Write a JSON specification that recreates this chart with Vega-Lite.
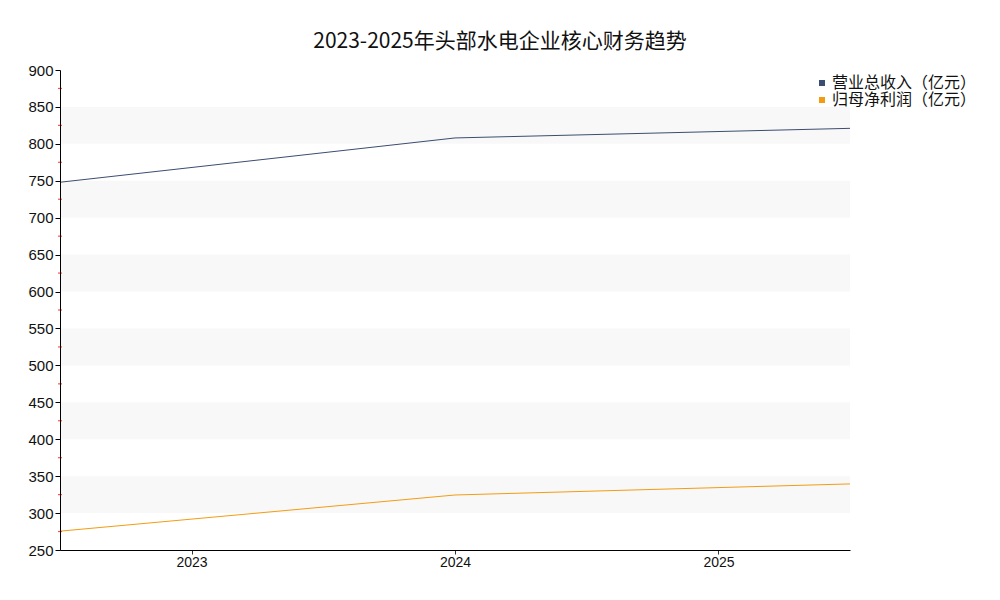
{
  "$schema": "https://vega.github.io/schema/vega-lite/v6.json",
  "autosize": "none",
  "width": 790,
  "height": 480,
  "padding": {"left": 60, "top": 70, "right": 150, "bottom": 50},
  "background": "white",
  "title": {
    "text": "2023-2025年头部水电企业核心财务趋势",
    "font": "Noto Sans CJK SC",
    "fontSize": 21,
    "fontWeight": "normal",
    "color": "#111111",
    "anchor": "middle",
    "dx": 45,
    "offset": 11
  },
  "layer": [
    {
      "data": {
        "values": [
          {"lo": 300, "hi": 350},
          {"lo": 400, "hi": 450},
          {"lo": 500, "hi": 550},
          {"lo": 600, "hi": 650},
          {"lo": 700, "hi": 750},
          {"lo": 800, "hi": 850}
        ]
      },
      "mark": {"type": "rect", "color": "#f8f8f8"},
      "encoding": {
        "y": {"field": "lo", "type": "quantitative", "title": null, "scale": {"domain": [250, 900], "nice": false, "zero": false}},
        "y2": {"field": "hi"}
      }
    },
    {
      "data": {
        "values": [
          {"year": 2023, "series": "营业总收入（亿元）", "value": 748},
          {"year": 2024, "series": "营业总收入（亿元）", "value": 808},
          {"year": 2025, "series": "营业总收入（亿元）", "value": 821},
          {"year": 2023, "series": "归母净利润（亿元）", "value": 275.5},
          {"year": 2024, "series": "归母净利润（亿元）", "value": 324.5},
          {"year": 2025, "series": "归母净利润（亿元）", "value": 339.5}
        ]
      },
      "mark": {"type": "line", "strokeWidth": 1},
      "encoding": {
        "x": {
          "field": "year",
          "type": "quantitative",
          "scale": {"domain": [2023, 2025], "nice": false, "zero": false},
          "axis": {
            "title": null,
            "zindex": 1,
            "values": [2023.333, 2024, 2024.667],
            "labelExpr": "datum.value < 2023.5 ? '2023' : (datum.value > 2024.5 ? '2025' : '2024')",
            "grid": false,
            "domainColor": "#000000",
            "tickColor": "#333333",
            "tickSize": 4,
            "labelFont": "Liberation Sans",
            "labelFontSize": 14,
            "labelColor": "#111111",
            "labelPadding": 1
          }
        },
        "y": {
          "field": "value",
          "type": "quantitative",
          "title": null,
          "axis": {
            "title": null,
            "zindex": 1,
            "tickCount": 13,
            "labelOverlap": false,
            "grid": false,
            "domainColor": "#000000",
            "tickColor": "#000000",
            "tickSize": 5,
            "labelFont": "Liberation Sans",
            "labelFontSize": 15,
            "labelColor": "#111111",
            "labelPadding": 2
          }
        },
        "color": {
          "field": "series",
          "type": "nominal",
          "sort": ["营业总收入（亿元）", "归母净利润（亿元）"],
          "scale": {"domain": ["营业总收入（亿元）", "归母净利润（亿元）"], "range": ["#3b4d70", "#f39c12"]},
          "legend": {
            "title": null,
            "orient": "none",
            "legendX": 754,
            "legendY": 5,
            "symbolType": "square",
            "symbolSize": 9,
            "symbolStrokeWidth": 3,
            "labelFont": "Noto Sans CJK SC",
            "labelFontSize": 16,
            "labelColor": "#111111",
            "labelOffset": 2,
            "rowPadding": 1
          }
        }
      }
    },
    {
      "data": {
        "values": [
          {"pos": 2023, "minor": 275},
          {"pos": 2023, "minor": 325},
          {"pos": 2023, "minor": 375},
          {"pos": 2023, "minor": 425},
          {"pos": 2023, "minor": 475},
          {"pos": 2023, "minor": 525},
          {"pos": 2023, "minor": 575},
          {"pos": 2023, "minor": 625},
          {"pos": 2023, "minor": 675},
          {"pos": 2023, "minor": 725},
          {"pos": 2023, "minor": 775},
          {"pos": 2023, "minor": 825},
          {"pos": 2023, "minor": 875}
        ]
      },
      "mark": {"type": "tick", "orient": "horizontal", "color": "#ff5050", "size": 4, "thickness": 1.2, "opacity": 1},
      "encoding": {
        "x": {"field": "pos", "type": "quantitative"},
        "y": {"field": "minor", "type": "quantitative"}
      }
    }
  ],
  "config": {"view": {"stroke": null}}
}
